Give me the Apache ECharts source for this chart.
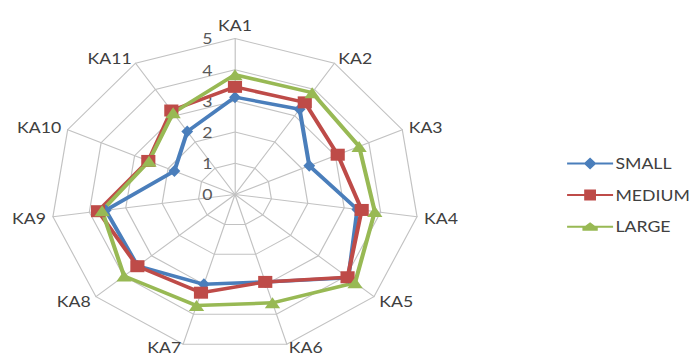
<!DOCTYPE html>
<html>
<head>
<meta charset="utf-8">
<script src="https://cdn.jsdelivr.net/npm/echarts@6/dist/echarts.min.js"></script>
<style>
  html, body { margin: 0; padding: 0; background: #fff; overflow: hidden; }
  #wrap { width: 692px; height: 356px; overflow: hidden; }
  /* the chart is laid out narrower and widened horizontally */
  #chart { width: 587px; height: 356px; transform: scaleX(1.179); transform-origin: 0 0; }
</style>
</head>
<body>
<div id="wrap"><div id="chart"></div></div>
<script>
// Indicators around the radar, clockwise from the top
const categories = ['KA1', 'KA2', 'KA3', 'KA4', 'KA5', 'KA6', 'KA7', 'KA8', 'KA9', 'KA10', 'KA11'];
const seriesNames = ['SMALL', 'MEDIUM', 'LARGE'];
const small  = [3.12, 3.25, 2.22, 3.36, 4.08, 2.92, 3.0, 3.5, 3.55, 1.81, 2.4];
const medium = [3.45, 3.51, 3.07, 3.48, 4.05, 2.92, 3.28, 3.51, 3.76, 2.59, 3.2];
const large  = [3.84, 3.88, 3.71, 3.84, 4.32, 3.62, 3.71, 3.99, 3.65, 2.57, 3.11];
const ringLabels = ['0', '1', '2', '3', '4', '5'];
const maxValue = 5;

const colors = ['#4a7ebb', '#be4b48', '#98b954'];
const symbols = ['diamond', 'rect', 'triangle'];
const symbolSizes = [[10, 12], [12, 12], [13, 11]];

// Legend icons: a short line with the series marker in the middle (39 x 12 box)
const legendIcons = [
  'path://M0,5L15,5L19.5,0L24,5L39,5L39,7L24,7L19.5,12L15,7L0,7Z',
  'path://M0,5L14.5,5L14.5,0.5L24.5,0.5L24.5,5L39,5L39,7L24.5,7L24.5,11.5L14.5,11.5L14.5,7L0,7Z',
  'path://M0,5L15.5,5L19.5,1.5L23.5,5L39,5L39,7L26,7L26,10L13,10L13,7L0,7Z'
];

// ECharts lays radar indicators out counter-clockwise; walk them in reverse after the first
const order = categories.map((_, i) => (i === 0 ? 0 : categories.length - i));
const values = [small, medium, large];
// the two names under the chart are lifted a little so they stay inside the frame
const bottomNames = ['KA6', 'KA7'];

const cx = 199.3, cy = 194.5, R = 156;
const font = 'Lato';

const chart = echarts.init(document.getElementById('chart'), null, { renderer: 'svg' });

chart.setOption({
  animation: false,
  textStyle: { fontFamily: font },
  legend: {
    orient: 'vertical',
    left: 476,
    top: 151,
    itemWidth: 39,
    itemHeight: 12,
    itemGap: 16.5,
    textStyle: { color: '#404040', fontSize: 15, fontFamily: font, padding: [0, 0, 0, -3] },
    data: seriesNames.map((n, i) => ({ name: n, icon: legendIcons[i], itemStyle: { color: colors[i] } }))
  },
  radar: {
    center: [cx, cy],
    radius: R,
    shape: 'polygon',
    splitNumber: 5,
    startAngle: 90,
    indicator: order.map(k => ({ name: categories[k], min: 0, max: maxValue })),
    axisName: {
      color: '#404040', fontSize: 15, fontFamily: font,
      formatter: name => (bottomNames.includes(name) ? '{low|' + name + '}' : name),
      rich: { low: { color: '#404040', fontSize: 15, fontFamily: font, padding: [-5, 0, 0, 0] } }
    },
    nameGap: 6,
    axisLine: { lineStyle: { color: '#c2c2c2', width: 1 } },
    splitLine: { lineStyle: { color: '#c2c2c2', width: 1 } },
    splitArea: { show: false },
    axisTick: { show: false },
    axisLabel: { show: false }
  },
  // Value scale along the KA1 spoke
  grid: { left: cx, top: cy - R, width: 1, height: R },
  xAxis: { type: 'value', show: false },
  yAxis: {
    type: 'value', min: 0, max: maxValue, interval: 1,
    axisLine: { show: false }, axisTick: { show: false }, splitLine: { show: false },
    axisLabel: {
      margin: 19, color: '#595959', fontSize: 15, fontFamily: font,
      formatter: v => ringLabels[v]
    }
  },
  series: [{
    type: 'radar',
    data: values.map((v, i) => ({
      name: seriesNames[i],
      value: order.map(k => v[k]),
      symbol: symbols[i],
      symbolSize: symbolSizes[i],
      lineStyle: { color: colors[i], width: 3.5 },
      itemStyle: { color: colors[i] }
    }))
  }]
});
</script>
</body>
</html>
